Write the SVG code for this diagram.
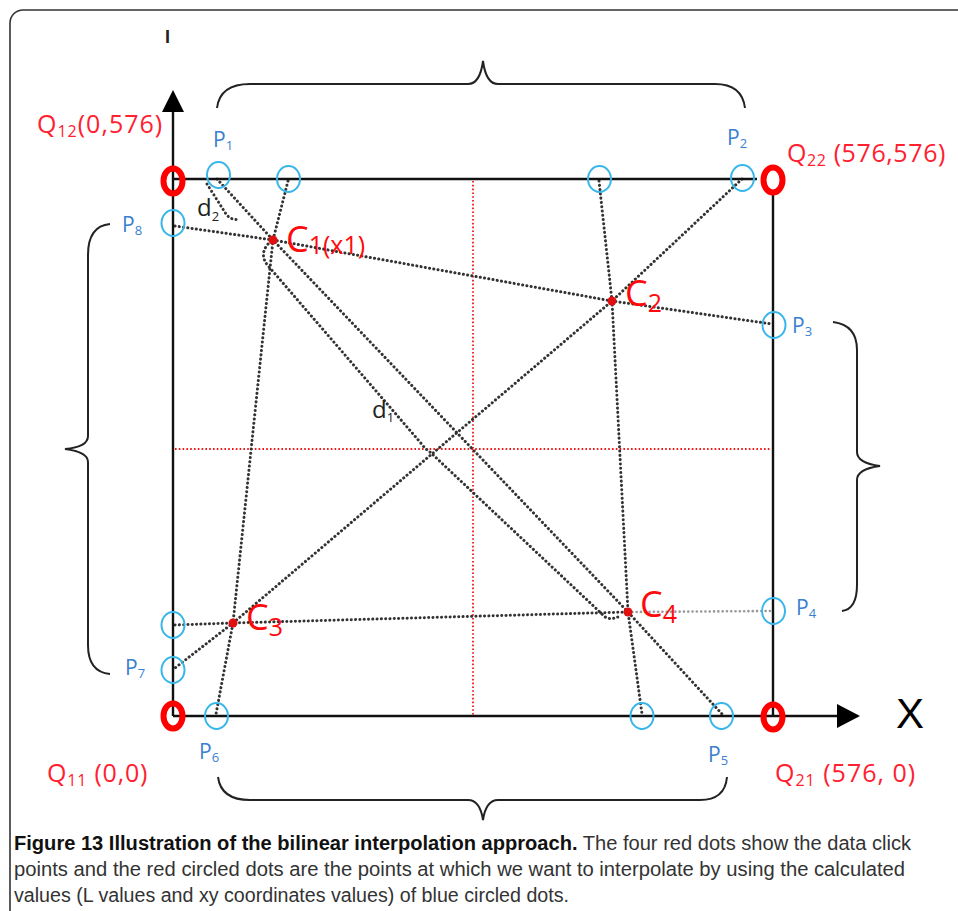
<svg xmlns="http://www.w3.org/2000/svg" width="958" height="911" viewBox="0 0 958 911">
<style>
.frame{fill:none;stroke:#333;stroke-width:1.6}
.axis{fill:none;stroke:#111;stroke-width:2.4}
.brace{fill:none;stroke:#222;stroke-width:2}
.dot{fill:none;stroke:#333;stroke-width:3;stroke-linecap:round;stroke-dasharray:0.1 4.2}
.dotl{fill:none;stroke:#9a9a9a;stroke-width:2.6;stroke-linecap:round;stroke-dasharray:0.1 4.2}
.rdot{fill:none;stroke:#f01818;stroke-width:1.8;stroke-dasharray:1.6 2.2}
.bc{fill:none;stroke:#38b6ea;stroke-width:2}
.rc{fill:none;stroke:#f00;stroke-width:6}
.cp{fill:#e01010}
.pl{font-family:"Open Sans",sans-serif;font-size:21px;fill:#3a7fd0}
.ql{font-family:"Open Sans",sans-serif;font-size:25px;fill:#ff2030}
.cl{font-family:"Open Sans",sans-serif;font-size:36px;fill:#ff0a0a}
.dl{font-family:"Open Sans",sans-serif;font-size:24px;fill:#222}
.cap{font-family:"Liberation Sans",Arial,sans-serif;font-size:21px;fill:#333}
</style>
<rect class="frame" x="10" y="10" width="970" height="930" rx="13"/>

<g id="connectors">
  <line class="rdot" x1="473" y1="181" x2="473" y2="715"/>
  <line class="rdot" x1="175" y1="449" x2="771" y2="449"/>
  <polyline class="dot" points="175,226 273,240 612,301 772,324"/>
  <polyline class="dot" points="175,625 233,623 628,612"/>
  <line class="dotl" x1="628" y1="612" x2="772" y2="611"/>
  <polyline class="dot" points="217,179 273,240 628,612 722,714"/>
  <polyline class="dot" points="742,179 612,301 233,623 175,668"/>
  <polyline class="dot" points="288,181 273,240 233,623 216,714"/>
  <polyline class="dot" points="599,181 612,301 628,612 642,714"/>
  <path class="dot" d="M207,184 L226,214 Q231,221 240,219"/>
  <path class="dot" d="M268,244 Q258,256 270,268 L420,442 Q425,449 430,452 L602,614 Q608,622 620,616"/>
</g>

<g id="axes">
  <line class="axis" x1="173" y1="716" x2="173" y2="110"/>
  <polygon points="173,90 162,112 184,112" fill="#000"/>
  <line class="axis" x1="173" y1="179" x2="757" y2="179"/>
  <line class="axis" x1="773" y1="194" x2="773" y2="716"/>
  <line class="axis" x1="173" y1="716" x2="840" y2="716"/>
  <polygon points="860,716 837,704 837,728" fill="#000"/>
  <text x="896" y="728" font-family="Liberation Sans,sans-serif" font-size="42" fill="#000">X</text>
  <text x="165" y="43" font-family="Liberation Sans,sans-serif" font-weight="bold" font-size="18" fill="#222">I</text>
</g>

<g id="braces">
  <path class="brace" d="M217,108 Q220,84 250,84 L468,84 Q480,84 483,61 Q486,84 498,84 L715,84 Q742,84 745,108"/>
  <path class="brace" d="M218,777 Q221,800 250,800 L468,800 Q480,800 483,820 Q486,800 498,800 L700,800 Q725,800 727,777"/>
  <path class="brace" d="M110,224 Q88,226 88,255 L88,436 Q88,447 65,449 Q88,452 88,462 L88,645 Q88,672 110,674"/>
  <path class="brace" d="M833,322 Q857,325 857,350 L857,452 Q857,463 880,466 Q857,469 857,480 L857,585 Q857,609 842,611"/>
</g>

<g id="Q12"><ellipse class="rc" cx="173" cy="181" rx="9.5" ry="12.5"/><text class="ql" x="37" y="133" letter-spacing="1">Q<tspan font-size="16" dy="4">12</tspan><tspan dy="-4">(0,576)</tspan></text></g>
<g id="Q22"><ellipse class="rc" cx="773" cy="180" rx="9.5" ry="12.5"/><text class="ql" x="787" y="162" letter-spacing="0.6">Q<tspan font-size="16" dy="4">22</tspan><tspan dy="-4"> (576,576)</tspan></text></g>
<g id="Q11"><ellipse class="rc" cx="173" cy="716" rx="9.5" ry="12.5"/><text class="ql" x="47" y="782" letter-spacing="0.8">Q<tspan font-size="16" dy="4">11</tspan><tspan dy="-4"> (0,0)</tspan></text></g>
<g id="Q21"><ellipse class="rc" cx="773" cy="717" rx="9.5" ry="12.5"/><text class="ql" x="775" y="782" letter-spacing="1">Q<tspan font-size="16" dy="4">21</tspan><tspan dy="-4"> (576, 0)</tspan></text></g>

<g id="P1"><ellipse class="bc" cx="218.5" cy="175" rx="11.5" ry="13"/><text class="pl" x="213" y="147">P<tspan font-size="13" dy="3">1</tspan></text></g>
<g id="T2"><ellipse class="bc" cx="288.5" cy="179" rx="11.5" ry="13"/></g>
<g id="T3"><ellipse class="bc" cx="599.5" cy="179" rx="11.5" ry="13"/></g>
<g id="P2"><ellipse class="bc" cx="742.5" cy="178" rx="11.5" ry="13"/><text class="pl" x="727" y="145">P<tspan font-size="13" dy="3">2</tspan></text></g>
<g id="P8"><ellipse class="bc" cx="173" cy="223" rx="11.5" ry="13"/><text class="pl" x="122" y="232">P<tspan font-size="13" dy="3">8</tspan></text></g>
<g id="P3"><ellipse class="bc" cx="774" cy="325" rx="11.5" ry="13"/><text class="pl" x="792" y="333">P<tspan font-size="13" dy="3">3</tspan></text></g>
<g id="P4"><ellipse class="bc" cx="773.5" cy="611" rx="11.5" ry="13"/><text class="pl" x="796" y="615">P<tspan font-size="13" dy="3">4</tspan></text></g>
<g id="L1"><ellipse class="bc" cx="173" cy="625" rx="11.5" ry="13"/></g>
<g id="P7"><ellipse class="bc" cx="173" cy="670" rx="11.5" ry="13"/><text class="pl" x="125" y="675">P<tspan font-size="13" dy="3">7</tspan></text></g>
<g id="P6"><ellipse class="bc" cx="216.5" cy="716" rx="11.5" ry="13"/><text class="pl" x="199" y="759">P<tspan font-size="13" dy="3">6</tspan></text></g>
<g id="B2"><ellipse class="bc" cx="642" cy="716" rx="11.5" ry="13"/></g>
<g id="P5"><ellipse class="bc" cx="721.5" cy="716" rx="11.5" ry="13"/><text class="pl" x="708" y="762">P<tspan font-size="13" dy="3">5</tspan></text></g>

<g id="C1"><circle class="cp" cx="273" cy="240" r="4.5"/><text class="cl" x="286" y="252">C<tspan font-size="25" dy="2">1(x1)</tspan></text></g>
<g id="C2"><circle class="cp" cx="612" cy="301" r="4.5"/><text class="cl" x="625" y="306">C<tspan font-size="25" dy="6">2</tspan></text></g>
<g id="C3"><circle class="cp" cx="233" cy="623" r="4.5"/><text class="cl" x="246" y="630">C<tspan font-size="25" dy="6">3</tspan></text></g>
<g id="C4"><circle class="cp" cx="628" cy="612" r="4.5"/><text class="cl" x="640" y="617">C<tspan font-size="25" dy="6">4</tspan></text></g>

<g id="d1"><text class="dl" x="372" y="418">d<tspan font-size="13" dy="4">1</tspan></text></g>
<g id="d2"><text class="dl" x="197" y="216" font-size="20" fill="#3b3050">d<tspan font-size="13" dy="5">2</tspan></text></g>

<g id="caption" transform="translate(14 0) scale(0.88 1)">
  <text class="cap" x="0" y="850" textLength="1019.3" lengthAdjust="spacingAndGlyphs"><tspan font-weight="bold" fill="#111">Figure 13 Illustration of the bilinear interpolation approach.</tspan> The four red dots show the data click</text>
  <text class="cap" x="0" y="876" textLength="1012.5" lengthAdjust="spacingAndGlyphs">points and the red circled dots are the points at which we want to interpolate by using the calculated</text>
  <text class="cap" x="0" y="902" textLength="630.7" lengthAdjust="spacingAndGlyphs">values (L values and xy coordinates values) of blue circled dots.</text>
</g>
</svg>
